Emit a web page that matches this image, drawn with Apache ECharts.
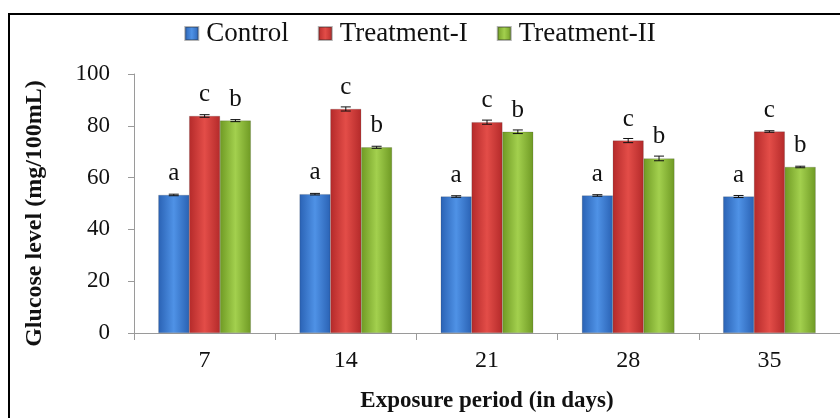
<!DOCTYPE html>
<html>
<head>
<meta charset="utf-8">
<script src="https://cdn.jsdelivr.net/npm/echarts@6/dist/echarts.min.js"></script>
<style>
html,body{margin:0;padding:0;background:#fff;}
#chart{width:840px;height:418px;}
</style>
</head>
<body>
<div id="chart"></div>
<script>
"use strict";

var categories=['7','14','21','28','35'];
var seriesNames=['Control','Treatment-I','Treatment-II'];
var control=[53.3,53.6,52.7,53.1,52.7];
var treatment1=[83.8,86.5,81.4,74.3,77.8];
var treatment2=[82.0,71.7,77.7,67.4,64.1];
var errControl=[0.3,0.3,0.3,0.3,0.4];
var errTreatment1=[0.5,0.8,0.8,0.8,0.3];
var errTreatment2=[0.4,0.4,0.7,0.9,0.3];
var letters=['a','c','b'];
var yTicks=[0,20,40,60,80,100];

var values=[control,treatment1,treatment2];
var errors=[errControl,errTreatment1,errTreatment2];
var colors=[
  ['#2a62b4','#4f92e6','#2a62b4'],
  ['#b42a2a','#e34d48','#b42a2a'],
  ['#6f9a24','#a3d04e','#6f9a24']
];
var FONT='"Liberation Serif", "Times New Roman", serif';
var CAT_GAP=0.345;

function grad(c){
  return new echarts.graphic.LinearGradient(0,0,1,0,[
    {offset:0,color:c[0]},{offset:0.5,color:c[1]},{offset:1,color:c[2]}
  ]);
}

var chart=echarts.init(document.getElementById('chart'));

var series=[];
values.forEach(function(v,i){
  series.push({
    name:seriesNames[i],
    type:'bar',
    data:v,
    barGap:'0%',
    barCategoryGap:(CAT_GAP*100)+'%',
    itemStyle:{color:grad(colors[i]),borderColor:'rgba(40,40,40,0.35)',borderWidth:0.5},
    label:{
      show:true,position:'top',distance:9,
      formatter:letters[i],
      fontFamily:FONT,fontSize:25,color:'#111'
    },
    z:2
  });
});
// error bars, shifted onto each bar of the group
values.forEach(function(v,i){
  series.push({
    type:'custom',
    name:seriesNames[i]+'-err',
    data:v.map(function(val,k){return [k,val,errors[i][k]];}),
    z:5,
    silent:true,
    renderItem:function(params,api){
      var k=api.value(0),val=api.value(1),e=api.value(2);
      var catW=api.size([1,0])[0];
      var barW=catW*(1-CAT_GAP)/3;
      var off=(i-1)*barW;
      var hi=api.coord([k,val+e]);
      var lo=api.coord([k,val-e]);
      var x=hi[0]+off;
      var hw=5;
      var st={stroke:'#111',lineWidth:1};
      return {type:'group',children:[
        {type:'line',shape:{x1:x,y1:hi[1],x2:x,y2:lo[1]},style:st},
        {type:'line',shape:{x1:x-hw,y1:hi[1],x2:x+hw,y2:hi[1]},style:st},
        {type:'line',shape:{x1:x-hw,y1:lo[1],x2:x+hw,y2:lo[1]},style:st}
      ]};
    }
  });
});

chart.setOption({
  animation:false,
  backgroundColor:'#fff',
  graphic:[{
    type:'rect',shape:{x:9,y:14,width:840,height:420},
    style:{fill:'none',stroke:'#000',lineWidth:2},z:100
  }],
  legend:{
    data:seriesNames.map(function(n,i){return {name:n,itemStyle:{color:grad(colors[i])}};}),
    top:15,left:'center',
    itemWidth:13,itemHeight:13,itemGap:29,
    icon:'rect',
    textStyle:{fontFamily:FONT,fontSize:27,color:'#111',padding:[0,0,0,3]}
  },
  grid:{left:134,right:-5,top:74,bottom:75},
  xAxis:{
    type:'category',
    data:categories,
    name:'Exposure period (in days)',
    nameLocation:'middle',nameGap:57,
    nameTextStyle:{fontFamily:FONT,fontSize:23,fontWeight:'bold',color:'#111'},
    axisLine:{lineStyle:{color:'#9a9a9a',width:1}},
    axisTick:{show:true,length:7,lineStyle:{color:'#9a9a9a'}},
    axisLabel:{fontFamily:FONT,fontSize:24,color:'#111',margin:16}
  },
  yAxis:{
    type:'value',
    min:yTicks[0],max:yTicks[yTicks.length-1],interval:20,
    name:'Glucose level (mg/100mL)',
    nameLocation:'middle',nameGap:87,
    nameTextStyle:{fontFamily:FONT,fontSize:24,fontWeight:'bold',color:'#111',padding:[0,20,0,0]},
    axisLine:{show:true,lineStyle:{color:'#9a9a9a',width:1}},
    axisTick:{show:true,length:6,lineStyle:{color:'#9a9a9a'}},
    splitLine:{show:false},
    axisLabel:{fontFamily:FONT,fontSize:23,color:'#111',margin:24}
  },
  series:series
});
</script>
</body>
</html>
